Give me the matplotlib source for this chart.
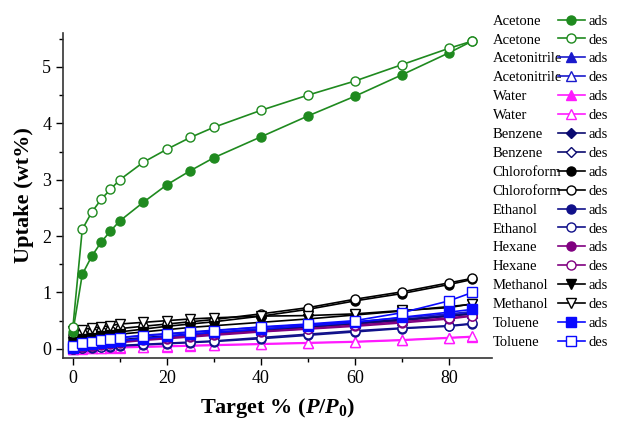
import matplotlib
matplotlib.use("Agg")
import matplotlib.pyplot as plt
from matplotlib.ticker import MultipleLocator

plt.rcParams['font.family'] = 'Liberation Serif'
plt.rcParams['mathtext.fontset'] = 'custom'
plt.rcParams['mathtext.rm'] = 'Liberation Serif'
plt.rcParams['mathtext.it'] = 'Liberation Serif:italic'
plt.rcParams['mathtext.bf'] = 'Liberation Serif:bold'
plt.rcParams['mathtext.bfit'] = 'Liberation Serif:bold:italic'

# relative pressure (%)
pp = [0, 2, 4, 6, 8, 10, 15, 20, 25, 30, 40, 50, 60, 70, 80, 85]

acetone_ads = [0.30, 1.32, 1.64, 1.89, 2.09, 2.27, 2.60, 2.91, 3.16, 3.39, 3.76, 4.13, 4.48, 4.86, 5.25, 5.46]
acetone_des = [0.38, 2.12, 2.42, 2.65, 2.83, 3.00, 3.31, 3.54, 3.75, 3.93, 4.23, 4.50, 4.75, 5.04, 5.33, 5.46]
acetonitrile_ads = [0.00, 0.05, 0.07, 0.09, 0.11, 0.13, 0.17, 0.21, 0.25, 0.28, 0.34, 0.40, 0.45, 0.52, 0.60, 0.64]
acetonitrile_des = [0.08, 0.12, 0.14, 0.16, 0.18, 0.20, 0.24, 0.27, 0.30, 0.33, 0.38, 0.43, 0.48, 0.55, 0.62, 0.66]
water_ads = [0.00, 0.00, 0.01, 0.01, 0.02, 0.02, 0.03, 0.04, 0.05, 0.06, 0.08, 0.10, 0.12, 0.15, 0.19, 0.21]
water_des = [0.01, 0.01, 0.02, 0.02, 0.03, 0.03, 0.04, 0.05, 0.06, 0.07, 0.09, 0.11, 0.13, 0.16, 0.20, 0.22]
benzene_ads = [0.02, 0.04, 0.06, 0.08, 0.10, 0.12, 0.16, 0.20, 0.23, 0.26, 0.32, 0.38, 0.44, 0.50, 0.58, 0.62]
benzene_des = [0.05, 0.08, 0.10, 0.12, 0.14, 0.16, 0.20, 0.23, 0.26, 0.29, 0.35, 0.40, 0.46, 0.52, 0.58, 0.62]
chloroform_ads = [0.15, 0.20, 0.23, 0.26, 0.28, 0.30, 0.35, 0.40, 0.44, 0.48, 0.58, 0.70, 0.85, 0.98, 1.14, 1.23]
chloroform_des = [0.25, 0.28, 0.30, 0.32, 0.34, 0.36, 0.40, 0.44, 0.48, 0.52, 0.62, 0.73, 0.88, 1.01, 1.17, 1.25]
ethanol_ads = [0.00, 0.01, 0.02, 0.03, 0.04, 0.05, 0.07, 0.09, 0.11, 0.13, 0.18, 0.24, 0.30, 0.36, 0.40, 0.44]
ethanol_des = [0.00, 0.02, 0.03, 0.04, 0.05, 0.06, 0.08, 0.10, 0.12, 0.14, 0.20, 0.26, 0.32, 0.37, 0.41, 0.45]
hexane_ads = [0.00, 0.03, 0.05, 0.07, 0.09, 0.11, 0.15, 0.18, 0.21, 0.24, 0.30, 0.35, 0.40, 0.46, 0.53, 0.58]
hexane_des = [0.03, 0.06, 0.08, 0.10, 0.12, 0.14, 0.17, 0.20, 0.23, 0.26, 0.31, 0.36, 0.42, 0.48, 0.55, 0.59]
methanol_ads = [0.12, 0.18, 0.20, 0.22, 0.24, 0.26, 0.30, 0.34, 0.38, 0.41, 0.47, 0.53, 0.60, 0.67, 0.75, 0.79]
methanol_des = [0.32, 0.34, 0.37, 0.39, 0.41, 0.44, 0.47, 0.50, 0.53, 0.55, 0.58, 0.59, 0.62, 0.68, 0.73, 0.80]
toluene_ads = [0.02, 0.06, 0.08, 0.10, 0.12, 0.14, 0.18, 0.22, 0.26, 0.29, 0.35, 0.41, 0.47, 0.56, 0.65, 0.70]
toluene_des = [0.05, 0.10, 0.13, 0.16, 0.18, 0.20, 0.23, 0.26, 0.29, 0.32, 0.39, 0.44, 0.50, 0.64, 0.85, 1.00]

names = ['Acetone', 'Acetonitrile', 'Water', 'Benzene', 'Chloroform',
         'Ethanol', 'Hexane', 'Methanol', 'Toluene']
ads = [acetone_ads, acetonitrile_ads, water_ads, benzene_ads, chloroform_ads,
       ethanol_ads, hexane_ads, methanol_ads, toluene_ads]
des = [acetone_des, acetonitrile_des, water_des, benzene_des, chloroform_des,
       ethanol_des, hexane_des, methanol_des, toluene_des]
colors = ['#1f8a1f', '#1a1acc', '#ff1aff', '#0a0a70', '#000000',
          '#10108a', '#800080', '#000000', '#0a0aff']
markers = ['o', '^', '^', 'D', 'o', 'o', 'o', 'v', 's']

fig = plt.figure(figsize=(6.3, 4.25), dpi=100)
ax = fig.add_axes([0.1, 0.158, 0.681, 0.764])

handles = []
labels = []
# low cluster first, acetone last so it sits on top
order = list(range(1, len(names))) + [0]
lines = {}
for i in order:
    ms = 4.8 if markers[i] == 'D' else 6.5
    la, = ax.plot(pp, ads[i], color=colors[i], lw=1.2, marker=markers[i],
                  ms=ms, mfc=colors[i], mec=colors[i], mew=1.0)
    ld, = ax.plot(pp, des[i], color=colors[i], lw=1.2, marker=markers[i],
                  ms=ms, mfc='white', mec=colors[i], mew=1.0)
    lines[i] = (la, ld)
for i in range(len(names)):
    handles += list(lines[i])
    labels += ['ads', 'des']

ax.set_xlim(-2.1, 89.2)
ax.set_ylim(-0.16, 5.6)
ax.xaxis.set_major_locator(MultipleLocator(20))
ax.xaxis.set_minor_locator(MultipleLocator(10))
ax.yaxis.set_major_locator(MultipleLocator(1))
ax.yaxis.set_minor_locator(MultipleLocator(0.5))
ax.tick_params(which='both', direction='out', labelsize=13, width=1.0)
ax.tick_params(which='major', length=5)
ax.tick_params(which='minor', length=3, labelbottom=False, labelleft=False)
ax.spines['top'].set_visible(False)
ax.spines['right'].set_visible(False)
for s in ['left', 'bottom']:
    ax.spines[s].set_linewidth(1.2)
    ax.spines[s].set_color('#333333')

ax.set_ylabel('Uptake (wt%)', fontsize=16, fontweight='bold', labelpad=6)
ax.set_xlabel(r'Target % ($\mathbfit{P}$/$\mathbfit{P}_\mathbf{0}$)',
              fontsize=16, fontweight='bold', labelpad=7)

leg = fig.legend(handles, labels, loc='upper left',
                 bbox_to_anchor=(0.885, 0.966), frameon=False,
                 fontsize=10.5, handlelength=1.9, handletextpad=0.2,
                 labelspacing=0.39, borderpad=0, borderaxespad=0)

fig.canvas.draw()
inv = fig.transFigure.inverted()
for k, t in enumerate(leg.get_texts()):
    bb = t.get_window_extent()
    yc = inv.transform((0, (bb.y0 + bb.y1) / 2))[1]
    fig.text(0.782, yc, names[k // 2], fontsize=10.5, va='center', ha='left')

fig.savefig('out.png', dpi=100)
